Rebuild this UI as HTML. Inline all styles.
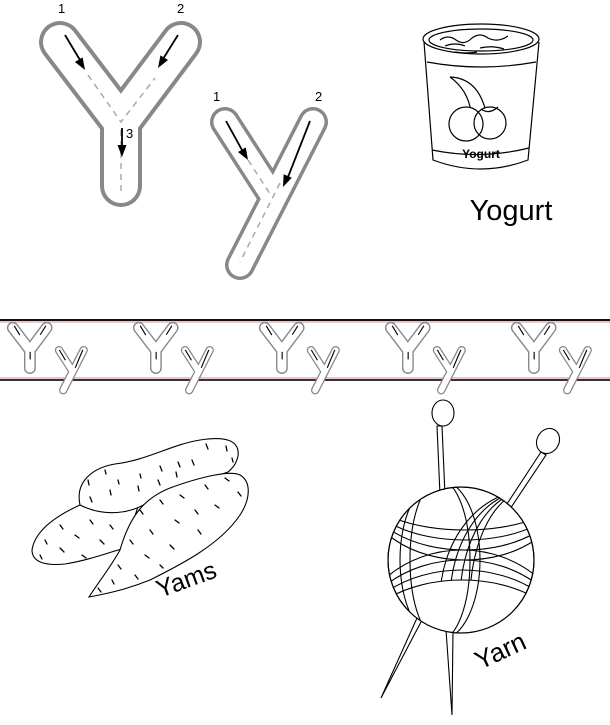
<!DOCTYPE html>
<html><head><meta charset="utf-8"><style>html,body{margin:0;padding:0;background:#fff}svg{display:block}</style></head><body>
<svg width="610" height="725" viewBox="0 0 610 725" xmlns="http://www.w3.org/2000/svg" font-family="Liberation Sans, sans-serif">
<defs>
<clipPath id="ball"><circle cx="461" cy="560" r="73"/></clipPath>
</defs>
<g>
<path d="M60,42 L121,122 L181,42 M121,122 L121,186" fill="none" stroke="#888" stroke-width="42" stroke-linejoin="round" stroke-linecap="round"/>
<path d="M60,42 L121,122 L181,42 M121,122 L121,186" fill="none" stroke="#fff" stroke-width="34" stroke-linejoin="round" stroke-linecap="round"/>
<path d="M88,75 L121,122 L155,78 M121,130 L121,192" fill="none" stroke="#aaa" stroke-width="1.5" stroke-dasharray="6,5"/>
<path d="M65,35 L80,60 M178,35 L163,59 M122,128 L122,146" stroke="#000" stroke-width="1.8"/>
<polygon points="85,70 74.9,62 82.6,57.4" fill="#000"/>
<polygon points="158,68 168,60 160.4,55.4" fill="#000"/>
<polygon points="122,157 117.5,145 126.5,145" fill="#000"/>
<path d="M225,122 L272,195 M313,122 L240,265" fill="none" stroke="#888" stroke-width="30" stroke-linejoin="round" stroke-linecap="round"/>
<path d="M225,122 L272,195 M313,122 L240,265" fill="none" stroke="#fff" stroke-width="23" stroke-linejoin="round" stroke-linecap="round"/>
<path d="M248,160 L272,197 M280,183 L240,262" fill="none" stroke="#aaa" stroke-width="1.5" stroke-dasharray="6,5"/>
<path d="M226,121 L242,150 M310,121 L288,177" stroke="#000" stroke-width="1.8"/>
<polygon points="248,160 238,152 245.8,147.4" fill="#000"/>
<polygon points="283,187 291.8,177.8 283.6,174.2" fill="#000"/>
<g font-size="13" fill="#000"><text x="58" y="13">1</text><text x="177" y="13">2</text><text x="126" y="138">3</text><text x="213" y="101">1</text><text x="315" y="101">2</text></g>
</g>
<!-- tracing row -->
<line x1="0" y1="320" x2="610" y2="320" stroke="#111" stroke-width="2"/>
<line x1="0" y1="322" x2="610" y2="322" stroke="#d88" stroke-width="1"/>
<line x1="0" y1="378" x2="610" y2="378" stroke="#d88" stroke-width="1"/>
<line x1="0" y1="380" x2="610" y2="380" stroke="#333" stroke-width="2"/>
<g transform="translate(-4,316) scale(0.28)"><path d="M60,42 L121,122 L181,42 M121,122 L121,186" fill="none" stroke="#888" stroke-width="42" stroke-linejoin="round" stroke-linecap="round"/><path d="M60,42 L121,122 L181,42 M121,122 L121,186" fill="none" stroke="#fff" stroke-width="32" stroke-linejoin="round" stroke-linecap="round"/><path d="M65,35 L85,68 M178,35 L158,67 M122,128 L122,155" stroke="#000" stroke-width="4"/><path d="M225,122 L272,195 M313,122 L240,265" fill="none" stroke="#888" stroke-width="30" stroke-linejoin="round" stroke-linecap="round"/><path d="M225,122 L272,195 M313,122 L240,265" fill="none" stroke="#fff" stroke-width="21" stroke-linejoin="round" stroke-linecap="round"/><path d="M226,121 L248,158 M310,121 L283,185" stroke="#000" stroke-width="4"/></g>
<g transform="translate(122,316) scale(0.28)"><path d="M60,42 L121,122 L181,42 M121,122 L121,186" fill="none" stroke="#888" stroke-width="42" stroke-linejoin="round" stroke-linecap="round"/><path d="M60,42 L121,122 L181,42 M121,122 L121,186" fill="none" stroke="#fff" stroke-width="32" stroke-linejoin="round" stroke-linecap="round"/><path d="M65,35 L85,68 M178,35 L158,67 M122,128 L122,155" stroke="#000" stroke-width="4"/><path d="M225,122 L272,195 M313,122 L240,265" fill="none" stroke="#888" stroke-width="30" stroke-linejoin="round" stroke-linecap="round"/><path d="M225,122 L272,195 M313,122 L240,265" fill="none" stroke="#fff" stroke-width="21" stroke-linejoin="round" stroke-linecap="round"/><path d="M226,121 L248,158 M310,121 L283,185" stroke="#000" stroke-width="4"/></g>
<g transform="translate(248,316) scale(0.28)"><path d="M60,42 L121,122 L181,42 M121,122 L121,186" fill="none" stroke="#888" stroke-width="42" stroke-linejoin="round" stroke-linecap="round"/><path d="M60,42 L121,122 L181,42 M121,122 L121,186" fill="none" stroke="#fff" stroke-width="32" stroke-linejoin="round" stroke-linecap="round"/><path d="M65,35 L85,68 M178,35 L158,67 M122,128 L122,155" stroke="#000" stroke-width="4"/><path d="M225,122 L272,195 M313,122 L240,265" fill="none" stroke="#888" stroke-width="30" stroke-linejoin="round" stroke-linecap="round"/><path d="M225,122 L272,195 M313,122 L240,265" fill="none" stroke="#fff" stroke-width="21" stroke-linejoin="round" stroke-linecap="round"/><path d="M226,121 L248,158 M310,121 L283,185" stroke="#000" stroke-width="4"/></g>
<g transform="translate(374,316) scale(0.28)"><path d="M60,42 L121,122 L181,42 M121,122 L121,186" fill="none" stroke="#888" stroke-width="42" stroke-linejoin="round" stroke-linecap="round"/><path d="M60,42 L121,122 L181,42 M121,122 L121,186" fill="none" stroke="#fff" stroke-width="32" stroke-linejoin="round" stroke-linecap="round"/><path d="M65,35 L85,68 M178,35 L158,67 M122,128 L122,155" stroke="#000" stroke-width="4"/><path d="M225,122 L272,195 M313,122 L240,265" fill="none" stroke="#888" stroke-width="30" stroke-linejoin="round" stroke-linecap="round"/><path d="M225,122 L272,195 M313,122 L240,265" fill="none" stroke="#fff" stroke-width="21" stroke-linejoin="round" stroke-linecap="round"/><path d="M226,121 L248,158 M310,121 L283,185" stroke="#000" stroke-width="4"/></g>
<g transform="translate(500,316) scale(0.28)"><path d="M60,42 L121,122 L181,42 M121,122 L121,186" fill="none" stroke="#888" stroke-width="42" stroke-linejoin="round" stroke-linecap="round"/><path d="M60,42 L121,122 L181,42 M121,122 L121,186" fill="none" stroke="#fff" stroke-width="32" stroke-linejoin="round" stroke-linecap="round"/><path d="M65,35 L85,68 M178,35 L158,67 M122,128 L122,155" stroke="#000" stroke-width="4"/><path d="M225,122 L272,195 M313,122 L240,265" fill="none" stroke="#888" stroke-width="30" stroke-linejoin="round" stroke-linecap="round"/><path d="M225,122 L272,195 M313,122 L240,265" fill="none" stroke="#fff" stroke-width="21" stroke-linejoin="round" stroke-linecap="round"/><path d="M226,121 L248,158 M310,121 L283,185" stroke="#000" stroke-width="4"/></g>
<!-- yogurt -->
<g fill="none" stroke="#000" stroke-width="1.2">
<path d="M424,42 L433,160 Q481,178 528,160 L539,42"/>
<ellipse cx="481" cy="39" rx="58" ry="15" fill="#fff"/>
<ellipse cx="481" cy="40" rx="52" ry="11"/>
<path d="M440,40 q8,-6 16,0 q8,6 16,-2 q8,-6 16,0 q10,5 20,-2 M445,46 q10,-4 20,0 M480,48 q12,-3 24,1 M455,52 q12,2 22,0"/>
<path d="M427,62 Q481,72 536,62 M432,150 Q481,160 529,148"/>
<path d="M450,77 Q475,78 484,105 L485,108 M450,77 Q468,90 471,112"/>
<circle cx="466" cy="124" r="17" fill="#fff"/>
<circle cx="490" cy="123" r="16"/>
<path d="M481,109 Q489,115 498,107"/>
</g>
<text x="481" y="158" font-size="12" font-weight="bold" text-anchor="middle">Yogurt</text>
<text x="511" y="220" font-size="29" text-anchor="middle">Yogurt</text>
<!-- yams -->
<g stroke="#000" stroke-width="1.1" fill="#fff">
<path d="M80,505 C58,515 35,530 32,550 C32,562 45,566 65,564 C90,560 110,552 125,548 L140,500 Z"/>
<path d="M80,505 C75,482 92,468 115,464 C148,460 170,445 200,440 C225,436 240,440 238,456 C236,466 230,470 228,472 L150,500 C140,510 110,520 80,505 Z"/>
<path d="M89,597 C100,580 110,568 120,550 C130,515 145,498 170,488 C200,477 230,470 240,475 C252,482 250,500 240,515 C220,545 180,565 150,580 C125,590 105,594 89,597 Z"/>
</g>
<g stroke="#000" stroke-width="1.3" stroke-linecap="round">
<path d="M118,480 l1,4 M140,474 l1,4 M160,466 l2,5 M178,462 l2,5 M206,444 l2,5 M226,446 l1,5 M232,458 l1,4 M192,460 l2,5 M176,472 l1,5 M158,480 l2,5 M138,486 l1,5 M110,490 l1,5 M90,497 l2,5 M88,480 l1,5 M105,470 l1,4"/>
<path d="M60,525 l3,4 M45,540 l2,4 M60,548 l4,4 M75,535 l4,3 M90,520 l3,4 M100,540 l4,4 M40,555 l2,4 M82,555 l4,3 M110,525 l3,4"/>
<path d="M140,510 l3,4 M160,500 l3,4 M180,495 l4,3 M205,485 l3,4 M225,478 l4,3 M238,492 l3,4 M215,505 l4,3 M195,510 l3,4 M175,520 l4,3 M150,530 l3,4 M130,540 l3,4 M145,555 l4,3 M170,545 l4,4 M198,530 l3,4 M118,565 l3,4 M135,575 l3,4 M98,588 l3,4 M112,580 l2,4 M160,565 l3,3"/>
</g>
<text transform="translate(160,598) rotate(-20)" font-size="25">Yams</text>
<!-- yarn -->
<g stroke="#000" stroke-width="1.1" fill="#fff">
<path d="M437,426 L440,495 L445,495 L442,426 Z M453,630 L446,630 L452,715 Z"/>
<ellipse cx="443" cy="413" rx="11" ry="13"/>
<path d="M541,452 L503,510 L508,512 L546,455 Z M422,620 L417,618 L381,698 Z"/>
<ellipse cx="548" cy="441" rx="11" ry="13" transform="rotate(30 548 441)"/>
<circle cx="461" cy="560" r="73"/>
</g>
<g clip-path="url(#ball)" fill="none" stroke="#000" stroke-width="1.1">
<ellipse cx="465" cy="490" rx="100" ry="40"/><ellipse cx="465" cy="490" rx="100" ry="50"/><ellipse cx="465" cy="490" rx="100" ry="60"/><ellipse cx="465" cy="490" rx="100" ry="70"/>
<ellipse cx="530" cy="600" rx="60" ry="110"/><ellipse cx="530" cy="600" rx="70" ry="110"/><ellipse cx="530" cy="600" rx="80" ry="110"/><ellipse cx="530" cy="600" rx="90" ry="110"/>
<ellipse cx="462" cy="650" rx="110" ry="70" fill="#fff"/><ellipse cx="462" cy="650" rx="110" ry="80"/><ellipse cx="462" cy="650" rx="110" ry="90"/><ellipse cx="462" cy="650" rx="110" ry="100"/>
<ellipse cx="440" cy="560" rx="40" ry="80"/><ellipse cx="440" cy="560" rx="30" ry="80"/>
</g>
<circle cx="461" cy="560" r="73" fill="none" stroke="#000" stroke-width="1.2"/>
<text transform="translate(480,670) rotate(-25)" font-size="26">Yarn</text>
</svg>
</body></html>
